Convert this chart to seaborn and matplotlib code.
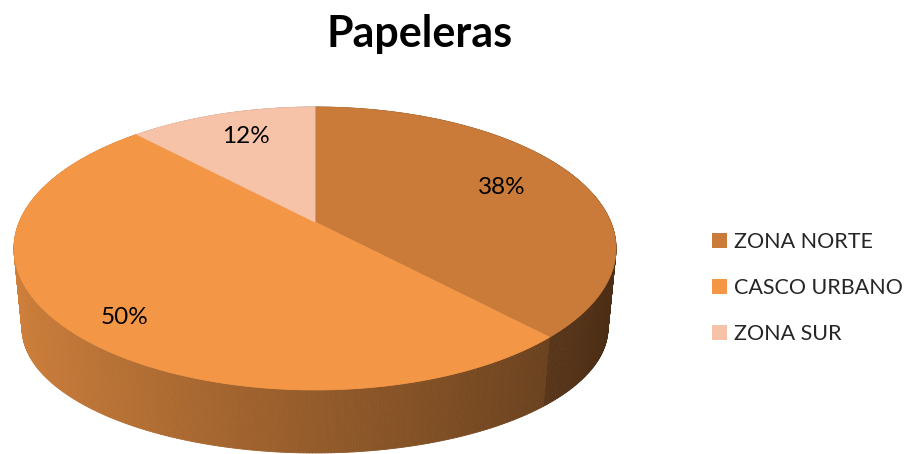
import numpy as np
import matplotlib
matplotlib.use("Agg")
import matplotlib.pyplot as plt
from matplotlib.collections import PolyCollection
from matplotlib.patches import Patch
import seaborn as sns

# Data
categories = ["ZONA NORTE", "CASCO URBANO", "ZONA SUR"]
shares = [38, 50, 12]
pct_labels = ["38%", "50%", "12%"]
title = "Papeleras"

sns.set_theme(style="white")
plt.rcParams["font.family"] = ["Lato", "DejaVu Sans"]
palette = sns.color_palette(["#CA7B3A", "#F39646", "#F6C3A8"])

W, H = 912, 454
fig = plt.figure(figsize=(W / 100, H / 100), dpi=100)
ax = fig.add_axes([0, 0, 1, 1])
ax.set_xlim(0, W)
ax.set_ylim(H, 0)
ax.axis("off")

# Perspective mapping of the unit disc (top face and bottom face of the slab)
CX, CY = 315.0, 222.0
A_TOP, B_TOP, K = 295.7, 136.5, 0.1873
A_BOT, B_BOT, CY_BOT = 287.8, 120.6, 304.6


def top_pt(phi, r=1.0):
    u, v = r * np.cos(phi), r * np.sin(phi)
    d = 1 + K * v
    return CX + A_TOP * u / d, CY - B_TOP * v / d


def bot_pt(phi):
    u, v = np.cos(phi), np.sin(phi)
    d = 1 + K * v
    return CX + A_BOT * u / d, CY_BOT - B_BOT * v / d


# Slice boundaries: start at 12 o'clock, run clockwise
fracs = np.array(shares, dtype=float) / np.sum(shares)
edges = np.deg2rad(90 - 360 * np.concatenate([[0], np.cumsum(fracs)]))

# Side wall, shaded darker toward the right
quads, qcolors, qdepth = [], [], []
for i, base in enumerate(palette):
    phis = np.linspace(edges[i], edges[i + 1], max(int(abs(edges[i + 1] - edges[i]) / np.deg2rad(0.5)), 4))
    for a, b in zip(phis[:-1], phis[1:]):
        t1, t2 = top_pt(a), top_pt(b)
        b1, b2 = bot_pt(a), bot_pt(b)
        m = 0.5 * (a + b)
        f = 0.61 - 0.25 * np.cos(m)
        quads.append([t1, t2, b2, b1])
        qcolors.append(tuple(np.clip(np.array(base) * f, 0, 1)))
        qdepth.append(np.sin(m))
order = np.argsort(qdepth)[::-1]
ax.add_collection(PolyCollection([quads[j] for j in order],
                                 facecolors=[qcolors[j] for j in order],
                                 edgecolors=[qcolors[j] for j in order],
                                 linewidths=0.6))

# Top faces
for i, base in enumerate(palette):
    phis = np.linspace(edges[i], edges[i + 1], 300)
    xs, ys = top_pt(phis)
    px = np.concatenate([[CX], xs])
    py = np.concatenate([[CY], ys])
    ax.fill(px, py, facecolor=base, edgecolor=base, linewidth=0.6)

# Percentage labels
label_pos = [(0.713, 0), (0.795, 13), (0.713, -5)]
for i, txt in enumerate(pct_labels):
    mid = 0.5 * (edges[i] + edges[i + 1])
    r, dy = label_pos[i]
    lx, ly = top_pt(mid, r)
    ax.text(lx, ly + dy, txt, ha="center", va="center", fontsize=17.5, color="black")

# Title
fig.text(420 / W, 1 - 34 / H, title, ha="center", va="center",
         fontsize=31, fontweight="bold", color="black")

# Legend
handles = [Patch(facecolor=c, edgecolor="none", label=n) for c, n in zip(palette, categories)]
fig.legend(handles=handles, loc="center left", bbox_to_anchor=(712 / W, 1 - 288 / H),
           frameon=False, fontsize=15.5, handlelength=0.7, handleheight=0.7,
           handletextpad=0.3, labelspacing=1.22, borderpad=0, borderaxespad=0)

fig.savefig("out.png", dpi=100)
